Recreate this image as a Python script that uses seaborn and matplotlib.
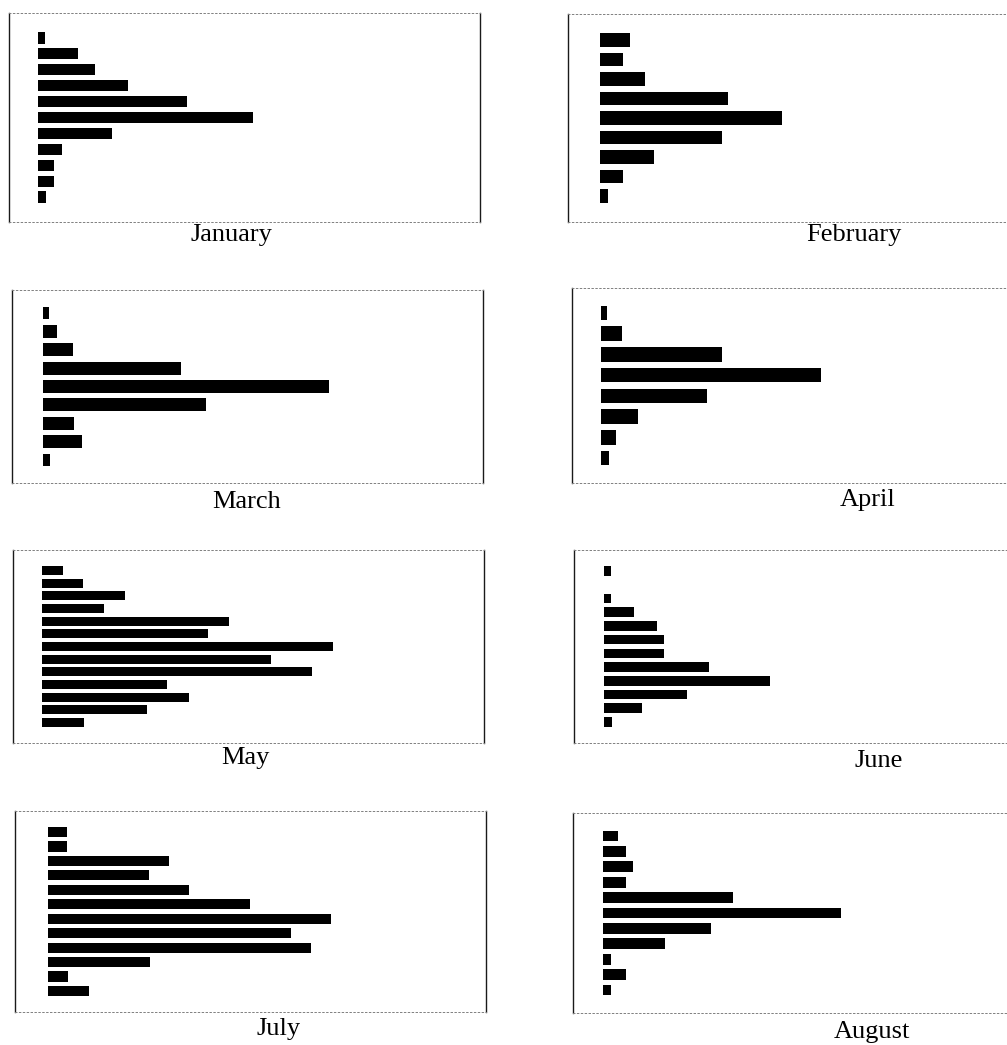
import matplotlib
matplotlib.use("Agg")
import matplotlib.pyplot as plt
import seaborn as sns
import pandas as pd

# Monthly distributions: one bar per class, top class first
months = ["January", "February", "March", "April",
          "May", "June", "July", "August"]

january = [7, 40, 57, 90, 149, 215, 74, 24, 16, 16, 8]
february = [30, 23, 45, 128, 182, 122, 54, 23, 8]
march = [6, 14, 30, 138, 286, 163, 31, 39, 7]
april = [6, 21, 121, 220, 106, 37, 15, 8]
may = [21, 41, 83, 62, 187, 166, 291, 229, 270, 125, 147, 105, 42]
june = [7, 0, 7, 30, 53, 60, 60, 105, 166, 83, 38, 8]
july = [19, 19, 121, 101, 141, 202, 283, 243, 263, 102, 20, 41]
august = [15, 23, 30, 23, 130, 238, 108, 62, 8, 23, 8]

series = [january, february, march, april, may, june, july, august]

W, H = 1007, 1045

# Panel frames in pixels: left, top, right, bottom; bar origin offset; vertical pad
frames = [
    (9, 13, 480, 222, 29, 25),
    (568, 14, 1039, 222, 32, 26),
    (12, 290, 483, 483, 31, 23),
    (572, 288, 1043, 483, 29, 25),
    (13, 550, 484, 743, 29, 20.5),
    (574, 550, 1045, 743, 30, 21),
    (15, 811, 486, 1012, 33, 21),
    (573, 813, 1044, 1013, 30, 23),
]

# Caption positions (center x, baseline y) in pixels
captions = [
    (231, 241), (854, 241), (247, 508), (868, 506),
    (245, 764), (879, 767), (279, 1035), (872, 1038),
]

sns.set_style("white")
plt.rcParams["font.family"] = ["Liberation Serif", "DejaVu Serif"]

fig = plt.figure(figsize=(W / 100, H / 100), dpi=100)
fig.patch.set_facecolor("white")

for name, vals, (L, T, R, B, off, pad), (cx, cy) in zip(months, series, frames, captions):
    ax = fig.add_axes([L / W, 1 - B / H, (R - L) / W, (B - T) / H])
    n = len(vals)
    cats = [str(i + 1) for i in range(n)]
    df = pd.DataFrame({"cls": cats, "value": vals})
    sns.barplot(data=df, x="value", y="cls", order=cats, orient="h",
                color="black", saturation=1, width=0.7, errorbar=None,
                linewidth=0, ax=ax)
    ax.set_xlim(-off, (R - L) - off)
    step = ((B - T) - 2 * pad) / (n - 1)
    m = pad / step
    ax.set_ylim(n - 1 + m, -m)
    ax.set_xticks([])
    ax.set_yticks([])
    ax.set_xlabel("")
    ax.set_ylabel("")
    for side in ("left", "right"):
        ax.spines[side].set_visible(True)
        ax.spines[side].set_color("0.1")
        ax.spines[side].set_linewidth(1.0)
    for side in ("top", "bottom"):
        ax.spines[side].set_visible(True)
        ax.spines[side].set_color("0.5")
        ax.spines[side].set_linewidth(0.7)
        ax.spines[side].set_linestyle((0, (1.5, 2.5)))
    fig.text(cx / W, 1 - cy / H, name, ha="center", va="baseline",
             fontsize=19, color="black")

fig.savefig("out.png", dpi=100, facecolor="white")
